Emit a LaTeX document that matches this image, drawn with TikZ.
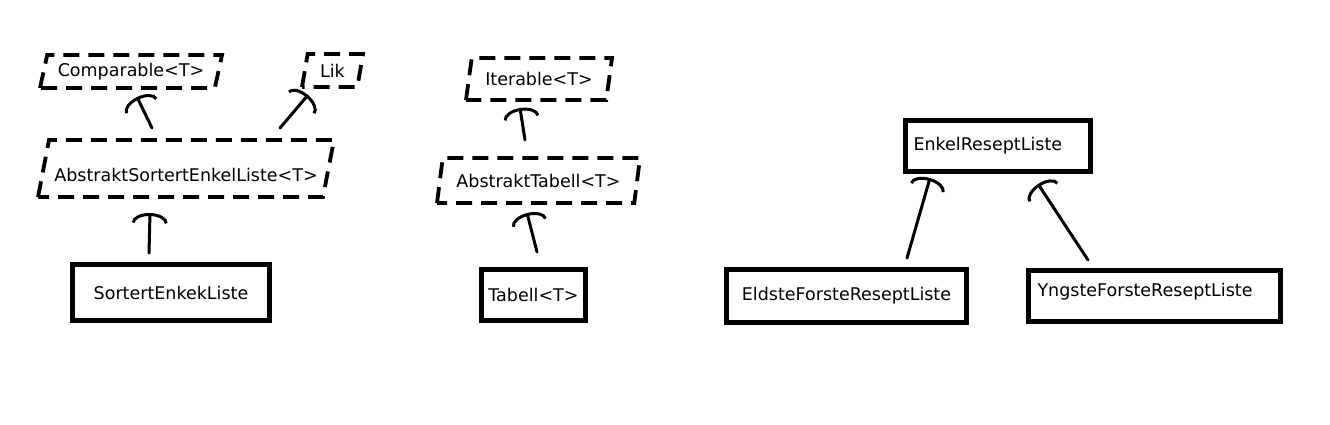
\documentclass[tikz,border=0pt]{standalone}
\usepackage{fontspec}
\setmainfont{DejaVu Sans}
\usetikzlibrary{shapes.geometric,arrows.meta,calc}
\tikzset{
  para/.style={trapezium, trapezium left angle=67, trapezium right angle=113,
    trapezium stretches body, draw, line width=3.8pt, dash pattern=on 16pt off 9pt,
    inner sep=0pt},
  cls/.style={rectangle, draw, line width=5pt, inner sep=0pt},
  inh/.style={line width=3pt, line cap=round,
    -{Arc Barb[length=10pt, width=36pt, line width=3pt]}},
}
\begin{document}
\begin{tikzpicture}[x=1pt, y=-1pt, font=\fontsize{17.5}{20}\selectfont]
\useasboundingbox (0,0) rectangle (1330,424);
\fill[white] (0,0) rectangle (1330,424);

% left group
\node[para, minimum width=182pt, minimum height=33pt] (cmp) at (131,71.5) {Comparable<T>};
\node[para, minimum width=61pt, minimum height=33pt] (lik) at (332.5,70.5) {Lik};
\node[para, minimum width=296pt, minimum height=57pt, text height=26pt, text depth=0pt] (ase) at (186,168.5) {AbstraktSortertEnkelListe<T>};
\node[cls, minimum width=197pt, minimum height=56pt] (sel) at (171,292.5) {SortertEnkekListe};

% middle group
\node[para, minimum width=146pt, minimum height=42pt] (itr) at (539,79) {Iterable<T>};
\node[para, minimum width=203pt, minimum height=45pt] (abt) at (538.5,180.5) {AbstraktTabell<T>};
\node[cls, minimum width=104pt, minimum height=51pt] (tab) at (533.5,295) {Tabell<T>};

% right group
\node[cls, minimum height=51pt, text width=169pt, inner xsep=8pt, align=left] (erl) at (998,146) {EnkelReseptListe};
\node[cls, minimum width=240pt, minimum height=53pt] (efr) at (846.5,296) {EldsteForsteReseptListe};
\node[cls, minimum height=51pt, text width=234pt, inner xsep=9pt, align=left, text height=13pt, text depth=12pt] (yfr) at (1154.5,296) {YngsteForsteReseptListe};

% inheritance arrows
\draw[inh] ($(ase)+(-34,-40.5)$) -- ($(cmp)+(6,25.5)$);
\draw[inh] ($(ase)+(94,-40.5)$) -- ($(lik)+(-24.5,24.5)$);
\draw[inh] ($(sel)+(-22,-39.5)$) -- ($(ase)+(-36,44.5)$);
\draw[inh] ($(abt)+(-13.5,-40.5)$) -- ($(itr)+(-19,29)$);
\draw[inh] ($(tab)+(3.5,-43)$) -- ($(abt)+(-11.5,32.5)$);
\draw[inh] ($(efr)+(60.5,-38)$) -- ($(erl)+(-68,32)$);
\draw[inh] ($(yfr)+(-66.5,-36)$) -- ($(erl)+(40,38)$);
\end{tikzpicture}
\end{document}
